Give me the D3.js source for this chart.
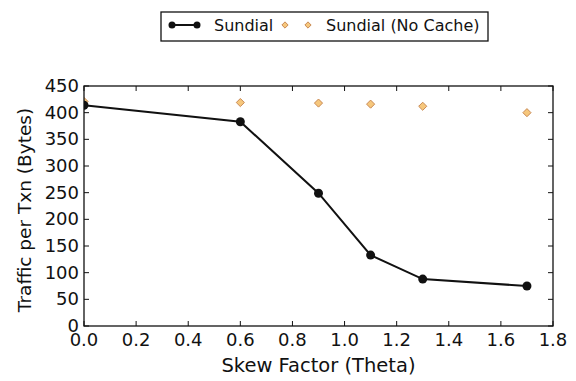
<!DOCTYPE html>
<html><head><meta charset="utf-8">
<script src="https://cdn.jsdelivr.net/npm/d3@7"></script>
<style>body{margin:0;background:#fff}svg{display:block}text{font-family:"DejaVu Sans",sans-serif;fill:#111}</style>
</head><body><svg id="c" width="576" height="381"></svg>
<script>
const skew = [0.0, 0.6, 0.9, 1.1, 1.3, 1.7];
const sundial = [414, 383, 249, 133, 88, 75];
const sundialNoCache = [421, 419, 418, 416, 412, 400];
const xTicks = [0.0, 0.2, 0.4, 0.6, 0.8, 1.0, 1.2, 1.4, 1.6, 1.8];
const yTicks = [0, 50, 100, 150, 200, 250, 300, 350, 400, 450];
const seriesNames = ["Sundial", "Sundial (No Cache)"];

const svg = d3.select("#c");
const L = 84, R = 553, T = 86, B = 326;
const x = d3.scaleLinear().domain([0, 1.8]).range([L, R]);
const y = d3.scaleLinear().domain([0, 450]).range([B, T]);
const fillC = "#f6c77c", edgeC = "#c98a55";

const tl = 5;
const g = svg.append("g");
xTicks.forEach(t => {
  g.append("line").attr("x1", x(t)).attr("x2", x(t)).attr("y1", B).attr("y2", B - tl).attr("stroke", "#111");
  g.append("line").attr("x1", x(t)).attr("x2", x(t)).attr("y1", T).attr("y2", T + tl).attr("stroke", "#111");
  g.append("text").attr("x", x(t)).attr("y", B + 20).attr("text-anchor", "middle").attr("font-size", 18).text(t.toFixed(1));
});
yTicks.forEach(t => {
  g.append("line").attr("x1", L).attr("x2", L + tl).attr("y1", y(t)).attr("y2", y(t)).attr("stroke", "#111");
  g.append("line").attr("x1", R).attr("x2", R - tl).attr("y1", y(t)).attr("y2", y(t)).attr("stroke", "#111");
  g.append("text").attr("x", L - 5).attr("y", y(t) + 6).attr("text-anchor", "end").attr("font-size", 18).text(t);
});

svg.append("clipPath").attr("id", "clp").append("rect").attr("x", L).attr("y", T).attr("width", R - L).attr("height", B - T);
const diamond = d3.symbol().type(d3.symbolDiamond2).size(42);
svg.append("g").attr("clip-path", "url(#clp)").selectAll("path").data(skew).join("path")
  .attr("d", diamond).attr("transform", (d, i) => `translate(${x(d)},${y(sundialNoCache[i])})`)
  .attr("fill", fillC).attr("stroke", edgeC).attr("stroke-width", 1);

const line = d3.line().x((d, i) => x(skew[i])).y(d => y(d));
svg.append("path").datum(sundial).attr("d", line).attr("fill", "none").attr("stroke", "#111").attr("stroke-width", 2);
svg.append("g").attr("clip-path", "url(#clp)").selectAll("circle").data(sundial).join("circle")
  .attr("cx", (d, i) => x(skew[i])).attr("cy", d => y(d)).attr("r", 4.5).attr("fill", "#111");

svg.append("rect").attr("x", L).attr("y", T).attr("width", R - L).attr("height", B - T).attr("fill", "none").attr("stroke", "#111").attr("stroke-width", 1.3);

// axis labels
svg.append("text").attr("x", (L + R) / 2).attr("y", 372).attr("text-anchor", "middle").attr("font-size", 19.5).text("Skew Factor (Theta)");
svg.append("text").attr("transform", `translate(31,${(T + B) / 2 + 4}) rotate(-90)`).attr("text-anchor", "middle").attr("font-size", 18.5).text("Traffic per Txn (Bytes)");

// legend
const lg = svg.append("g");
lg.append("rect").attr("x", 161).attr("y", 12).attr("width", 327).attr("height", 29).attr("fill", "#fff").attr("stroke", "#111").attr("stroke-width", 1.3);
lg.append("line").attr("x1", 172).attr("x2", 197).attr("y1", 25).attr("y2", 25).attr("stroke", "#111").attr("stroke-width", 2);
[172, 197].forEach(cx => lg.append("circle").attr("cx", cx).attr("cy", 25).attr("r", 3.5).attr("fill", "#111"));
lg.append("text").attr("x", 214).attr("y", 31).attr("font-size", 16).text(seriesNames[0]);
[285, 308].forEach(cx => lg.append("path").attr("d", d3.symbol().type(d3.symbolDiamond2).size(25)).attr("transform", `translate(${cx},25)`).attr("fill", fillC).attr("stroke", edgeC));
lg.append("text").attr("x", 326).attr("y", 31).attr("font-size", 16).text(seriesNames[1]);
</script></body></html>
